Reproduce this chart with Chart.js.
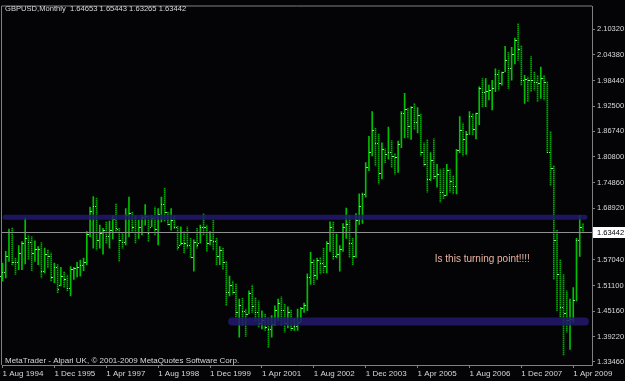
<!DOCTYPE html>
<html>
<head>
<meta charset="utf-8">
<script src="https://cdn.jsdelivr.net/npm/chart.js@4.4.1/dist/chart.umd.min.js"></script>
<style>
    html, body { margin: 0; padding: 0; background: #000; }
    canvas { display: block; }
</style>
</head>
<body>
<canvas id="chart" width="625" height="381"></canvas>
<script>
const symbolTitle = "GBPUSD,Monthly  1.64653 1.65443 1.63265 1.63442"
const footerText = "MetaTrader - Alpari UK, \u00a9 2001-2009 MetaQuotes Software Corp."
const noteText = "Is this turning point!!!!"
const firstMonth = [1994, 8]   // first bar is Aug 1994, one bar per month

// monthly bars, Aug 1994 .. Jul 2009
const opens = [
    1.5320, 1.5420, 1.5780, 1.6350, 1.5660,
    1.5650, 1.5860, 1.6100, 1.6200, 1.6120, 1.5850, 1.5950, 1.5960, 1.5450, 1.5830, 1.5800, 1.5300,
    1.5530, 1.5110, 1.5340, 1.5270, 1.5060, 1.5500, 1.5520, 1.5540, 1.5580, 1.5650, 1.6300, 1.6820,
    1.6950, 1.6150, 1.6330, 1.6400, 1.6250, 1.6390, 1.6650, 1.6420, 1.6150, 1.6120, 1.6750, 1.6780,
    1.6450, 1.6350, 1.6450, 1.6700, 1.6720, 1.6470, 1.6680, 1.6420, 1.6760, 1.7000, 1.6800, 1.6520,
    1.6620, 1.6450, 1.6050, 1.6100, 1.6080, 1.6050, 1.5760, 1.6120, 1.6090, 1.6470, 1.6460, 1.6080,
    1.6150, 1.6130, 1.5800, 1.5930, 1.5650, 1.4950, 1.5120, 1.4960, 1.4500, 1.4650, 1.4520, 1.4460,
    1.4930, 1.4640, 1.4490, 1.4240, 1.4300, 1.4150, 1.4100, 1.4230, 1.4540, 1.4700, 1.4550, 1.4250,
    1.4500, 1.4130, 1.4180, 1.4262, 1.4580, 1.4650, 1.5300, 1.5650, 1.5350, 1.5700, 1.5630, 1.5550,
    1.6100, 1.6450, 1.5780, 1.5830, 1.5950, 1.6450, 1.6520, 1.6100, 1.5780, 1.6620, 1.6950, 1.7220,
    1.7850, 1.8200, 1.8700, 1.8400, 1.7710, 1.8260, 1.8150, 1.8200, 1.8100, 1.8080, 1.8370, 1.9100,
    1.9200, 1.8800, 1.9230, 1.8880, 1.9060, 1.8200, 1.7920, 1.7580, 1.8000, 1.7650, 1.7690, 1.7270,
    1.7200, 1.7790, 1.7530, 1.7400, 1.8250, 1.8700, 1.8500, 1.8600, 1.9030, 1.8720, 1.9090, 1.9680,
    1.9580, 1.9600, 1.9620, 1.9680, 2.0000, 1.9800, 2.0050, 2.0330, 2.0140, 2.0470, 2.0790, 2.0570,
    1.9850, 1.9880, 1.9870, 1.9850, 1.9820, 1.9780, 1.9900, 1.9810, 1.8200, 1.7830, 1.6150, 1.5370,
    1.4620, 1.4480, 1.4310, 1.4330, 1.4780, 1.6160, 1.64653
]
const highs = [
    1.5629, 1.5896, 1.6413, 1.6444, 1.5744,
    1.6033, 1.6124, 1.6672, 1.6276, 1.6238, 1.6139, 1.6010, 1.6101, 1.5972, 1.5934, 1.5858, 1.5629,
    1.5591, 1.5531, 1.5424, 1.5348, 1.5546, 1.5531, 1.5645, 1.5698, 1.5744, 1.6353, 1.6923, 1.7167,
    1.7129, 1.6505, 1.6429, 1.6581, 1.6596, 1.6733, 1.6999, 1.6429, 1.6314, 1.6885, 1.7152, 1.6809,
    1.6733, 1.6619, 1.6733, 1.6977, 1.6733, 1.6733, 1.6923, 1.6885, 1.7152, 1.7357, 1.6809, 1.6885,
    1.6733, 1.6482, 1.6467, 1.6353, 1.6467, 1.6200, 1.6162, 1.6429, 1.6505, 1.6771, 1.6505, 1.6353,
    1.6619, 1.6200, 1.6010, 1.5972, 1.5668, 1.5325, 1.5211, 1.5150, 1.4793, 1.4816, 1.4564, 1.4983,
    1.5120, 1.4831, 1.4754, 1.4526, 1.4450, 1.4374, 1.4412, 1.4640, 1.4793, 1.4846, 1.4678, 1.4617,
    1.4541, 1.4336, 1.4564, 1.4602, 1.4701, 1.5378, 1.5873, 1.5706, 1.5744, 1.5759, 1.5972, 1.6124,
    1.6581, 1.6581, 1.6300, 1.6033, 1.6543, 1.6901, 1.6733, 1.6200, 1.6770, 1.7228, 1.7243, 1.7951,
    1.8560, 1.9130, 1.8750, 1.8613, 1.8408, 1.8271, 1.8773, 1.8461, 1.8164, 1.8446, 1.9130, 1.9549,
    1.9207, 1.9245, 1.9321, 1.9222, 1.9070, 1.8408, 1.8484, 1.8180, 1.8499, 1.7913, 1.7799, 1.7814,
    1.7913, 1.7799, 1.7647, 1.8256, 1.9016, 1.8864, 1.8674, 1.9130, 1.9092, 1.9093, 1.9702, 1.9892,
    1.9891, 1.9740, 1.9854, 2.0120, 2.0082, 2.0044, 2.0638, 2.0501, 2.0615, 2.0828, 2.1163, 2.0653,
    1.9968, 1.9930, 2.0402, 2.0044, 1.9968, 2.0158, 1.9968, 1.9816, 1.8674, 1.7875, 1.6391, 1.5706,
    1.5364, 1.4983, 1.4793, 1.5060, 1.6201, 1.6734, 1.65443
]
const lows = [
    1.5211, 1.5287, 1.5668, 1.5591, 1.5363,
    1.5477, 1.5477, 1.5607, 1.5706, 1.5454, 1.5668, 1.5591, 1.5287, 1.5401, 1.5515, 1.5211, 1.5173,
    1.4945, 1.5097, 1.5059, 1.4983, 1.4869, 1.5249, 1.5310, 1.5325, 1.5454, 1.5591, 1.6238, 1.5972,
    1.5934, 1.5972, 1.5835, 1.6086, 1.5972, 1.6185, 1.6330, 1.5668, 1.5972, 1.6048, 1.6238, 1.6353,
    1.6086, 1.6200, 1.6276, 1.6505, 1.6124, 1.6467, 1.6276, 1.6048, 1.6581, 1.6596, 1.6505, 1.6390,
    1.6429, 1.5934, 1.6048, 1.5858, 1.5972, 1.5744, 1.5439, 1.5972, 1.6086, 1.6276, 1.5896, 1.6048,
    1.5934, 1.5591, 1.5591, 1.5477, 1.4640, 1.4869, 1.4907, 1.4374, 1.3917, 1.4184, 1.3932, 1.4450,
    1.4488, 1.4298, 1.4146, 1.4108, 1.4070, 1.3674, 1.3917, 1.4184, 1.4298, 1.4184, 1.4032, 1.4130,
    1.4070, 1.4070, 1.4070, 1.4260, 1.4488, 1.4526, 1.5135, 1.5135, 1.5249, 1.5378, 1.5401, 1.5401,
    1.5896, 1.5706, 1.5744, 1.5439, 1.5896, 1.6200, 1.5759, 1.5591, 1.5760, 1.6520, 1.6543, 1.7152,
    1.7761, 1.8103, 1.7875, 1.7456, 1.7571, 1.7951, 1.8027, 1.7837, 1.7685, 1.7723, 1.8293, 1.8522,
    1.8522, 1.8484, 1.8712, 1.8636, 1.8103, 1.7875, 1.7266, 1.7533, 1.7571, 1.7380, 1.7038, 1.7114,
    1.7190, 1.7266, 1.7228, 1.7228, 1.8180, 1.8103, 1.8142, 1.8598, 1.8598, 1.8499, 1.8826, 1.9245,
    1.9245, 1.9397, 1.9169, 1.9588, 1.9626, 1.9740, 2.0044, 1.9664, 1.9854, 2.0234, 2.0311, 1.9740,
    1.9321, 1.9359, 1.9588, 1.9626, 1.9359, 1.9436, 1.9397, 1.8180, 1.7419, 1.5250, 1.4527, 1.4375,
    1.3499, 1.4032, 1.3629, 1.4260, 1.4755, 1.5782, 1.63265
]
const closes = [
    1.5420, 1.5780, 1.6350, 1.5660, 1.5650,
    1.5860, 1.6100, 1.6200, 1.6120, 1.5850, 1.5950, 1.5960, 1.5450, 1.5830, 1.5800, 1.5300, 1.5530,
    1.5030, 1.5340, 1.5270, 1.5060, 1.5500, 1.5520, 1.5540, 1.5580, 1.5650, 1.6300, 1.6820, 1.6950,
    1.6150, 1.6330, 1.6400, 1.6250, 1.6390, 1.6650, 1.6430, 1.6150, 1.6120, 1.6750, 1.6780, 1.6450,
    1.6350, 1.6450, 1.6700, 1.6720, 1.6330, 1.6680, 1.6420, 1.6760, 1.7000, 1.6800, 1.6520, 1.6620,
    1.6450, 1.6000, 1.6100, 1.6080, 1.6050, 1.5760, 1.6120, 1.6040, 1.6470, 1.6460, 1.6080, 1.6150,
    1.6130, 1.5800, 1.5930, 1.5650, 1.4950, 1.5120, 1.4960, 1.4500, 1.4650, 1.4520, 1.4460, 1.4930,
    1.4640, 1.4490, 1.4240, 1.4300, 1.4150, 1.4100, 1.4230, 1.4540, 1.4700, 1.4550, 1.4250, 1.4500,
    1.4130, 1.4180, 1.4250, 1.4580, 1.4650, 1.5300, 1.5650, 1.5350, 1.5700, 1.5630, 1.5550, 1.6100,
    1.6450, 1.5780, 1.5830, 1.5950, 1.6450, 1.6520, 1.6100, 1.5780, 1.6620, 1.6950, 1.7220, 1.7850,
    1.8200, 1.8700, 1.8400, 1.7710, 1.8260, 1.8150, 1.8200, 1.8100, 1.8080, 1.8370, 1.9100, 1.9200,
    1.8800, 1.9230, 1.8880, 1.9060, 1.8200, 1.7920, 1.7580, 1.8000, 1.7650, 1.7690, 1.7270, 1.7200,
    1.7790, 1.7530, 1.7400, 1.8250, 1.8700, 1.8500, 1.8600, 1.9030, 1.8720, 1.9090, 1.9680, 1.9580,
    1.9600, 1.9620, 1.9680, 2.0000, 1.9800, 2.0040, 2.0330, 2.0140, 2.0470, 2.0790, 2.0570, 1.9850,
    1.9880, 1.9870, 1.9850, 1.9820, 1.9780, 1.9900, 1.9810, 1.8200, 1.7830, 1.6150, 1.5370, 1.4620,
    1.4480, 1.4310, 1.4330, 1.4780, 1.6160, 1.6465, 1.63442
]

const priceTicks = [2.10320, 2.04380, 1.98440, 1.92500, 1.86740, 1.80800, 1.74860, 1.68920,
                    1.57040, 1.51100, 1.45160, 1.39220, 1.33460]
const dateTicks = ["1 Aug 1994", "1 Dec 1995", "1 Apr 1997", "1 Aug 1998", "1 Dec 1999", "1 Apr 2001",
                   "1 Aug 2002", "1 Dec 2003", "1 Apr 2005", "1 Aug 2006", "1 Dec 2007", "1 Apr 2009"]

// the two drawn support / resistance lines (price, first bar, last bar)
const levelPrices = [1.6684, 1.4275]
const levelFrom = [0.8, 70.8]
const levelTo = [179.6, 179.6]
const notePos = [133.3, 1.572]

const monthNames = ["Jan", "Feb", "Mar", "Apr", "May", "Jun", "Jul", "Aug", "Sep", "Oct", "Nov", "Dec"]

function dateIndex(label) {
    const parts = label.split(" ")
    return (Number(parts[2]) - firstMonth[0]) * 12 + monthNames.indexOf(parts[1]) + 1 - firstMonth[1]
}

const dateTickIdx = dateTicks.map(dateIndex)
const lastClose = closes[closes.length - 1]

const axisFont = { family: "Liberation Sans", size: 7.5 }

const metaTraderLook = {
    id: "metaTraderLook",
    beforeDraw(chart) {
        const c = chart.ctx
        c.save()
        c.fillStyle = "#040407"
        c.fillRect(0, 0, chart.width, chart.height)
        c.restore()
    },
    afterDatasetsDraw(chart) {
        const c = chart.ctx
        const area = chart.chartArea
        const x = chart.scales.x
        const y = chart.scales.y

        c.save()
        // open / close notches
        c.fillStyle = "#7cf07c"
        for (let i = 0; i < opens.length; i++) {
            const px = Math.floor(x.getPixelForValue(i) - 0.5)
            c.fillRect(px - 1, Math.round(y.getPixelForValue(opens[i])), 1, 1)
            c.fillRect(px + 1, Math.round(y.getPixelForValue(closes[i])), 1, 1)
        }

        // drawn levels
        c.strokeStyle = "rgba(34, 26, 108, 0.86)"
        c.lineCap = "round"
        const widths = [5, 8]
        levelPrices.forEach((p, k) => {
            const yy = y.getPixelForValue(p)
            c.lineWidth = widths[k]
            c.beginPath()
            c.moveTo(x.getPixelForValue(levelFrom[k]), yy)
            c.lineTo(x.getPixelForValue(levelTo[k]), yy)
            c.stroke()
        })

        // current price line
        const yp = Math.round(y.getPixelForValue(lastClose)) + 0.5
        c.strokeStyle = "#909090"
        c.lineWidth = 1
        c.lineCap = "butt"
        c.beginPath()
        c.moveTo(area.left, yp)
        c.lineTo(area.right, yp)
        c.stroke()

        // note
        c.fillStyle = "#e8b4a0"
        c.font = "10px 'Liberation Sans'"
        c.textBaseline = "middle"
        c.fillText(noteText, x.getPixelForValue(notePos[0]), y.getPixelForValue(notePos[1]))
        c.restore()
    },
    afterDraw(chart) {
        const c = chart.ctx
        const area = chart.chartArea
        const y = chart.scales.y

        c.save()
        c.strokeStyle = "#808080"
        c.lineWidth = 1
        c.beginPath()
        c.moveTo(area.left - 0.5, area.bottom)
        c.lineTo(area.left - 0.5, area.top - 0.5)
        c.lineTo(area.right, area.top - 0.5)
        c.stroke()

        c.fillStyle = "#d8d8d8"
        c.font = "7.6px 'Liberation Sans'"
        c.textBaseline = "alphabetic"
        c.fillText(symbolTitle, 5, 11)
        c.font = "8px 'Liberation Sans'"
        c.fillText(footerText, 5, 363)

        // current price marker on the axis
        const yp = Math.round(y.getPixelForValue(lastClose))
        c.fillStyle = "#ffffff"
        c.fillRect(area.right + 1, yp - 5, chart.width - area.right - 1, 11)
        c.fillStyle = "#000000"
        c.font = "7.5px 'Liberation Sans'"
        c.textBaseline = "middle"
        c.fillText(lastClose.toFixed(5), area.right + 5, yp + 0.5)
        c.restore()
    }
}

const ctx = document.getElementById("chart").getContext("2d")

// down bars are drawn dotted, like the dithered ones in the screenshot
const dots = document.createElement("canvas")
dots.width = 1
dots.height = 2
const dotsCtx = dots.getContext("2d")
dotsCtx.fillStyle = "#00a800"
dotsCtx.fillRect(0, 0, 1, 1)
dotsCtx.fillStyle = "#005a00"
dotsCtx.fillRect(0, 1, 1, 1)
const dotted = ctx.createPattern(dots, "repeat")

new Chart(ctx, {
    type: "bar",
    data: {
        datasets: [{
            data: highs.map((h, i) => ({ x: i, y: [lows[i], h] })),
            backgroundColor: c => closes[c.dataIndex] < opens[c.dataIndex] ? dotted : "#00c000",
            borderWidth: 0,
            barThickness: 1
        }]
    },
    options: {
        responsive: false,
        animation: false,
        layout: { padding: { left: 2, top: 2, right: 0, bottom: 0 } },
        plugins: {
            legend: { display: false },
            tooltip: { enabled: false }
        },
        scales: {
            x: {
                type: "linear",
                min: -0.154,
                max: 181.78,
                offset: false,
                afterBuildTicks: scale => {
                    scale.ticks = dateTickIdx.map(v => ({ value: v }))
                },
                afterFit: scale => { scale.height = 16 },
                ticks: {
                    callback: value => dateTicks[dateTickIdx.indexOf(value)],
                    align: "start",
                    autoSkip: false,
                    maxRotation: 0,
                    padding: 1,
                    color: "#d8d8d8",
                    font: { family: "Liberation Sans", size: 8 }
                },
                grid: { drawOnChartArea: false, drawTicks: true, tickLength: 3, color: "#808080", offset: false },
                border: { color: "#808080" }
            },
            y: {
                position: "right",
                min: 1.3271,
                max: 2.1559,
                beginAtZero: false,
                afterBuildTicks: scale => {
                    scale.ticks = priceTicks.map(v => ({ value: v }))
                },
                afterFit: scale => { scale.width = 33 },
                ticks: {
                    callback: value => value.toFixed(5),
                    padding: 2,
                    color: "#d8d8d8",
                    font: axisFont
                },
                grid: { drawOnChartArea: false, drawTicks: true, tickLength: 3, color: "#808080" },
                border: { color: "#808080" }
            }
        }
    },
    plugins: [metaTraderLook]
})
</script>
</body>
</html>
